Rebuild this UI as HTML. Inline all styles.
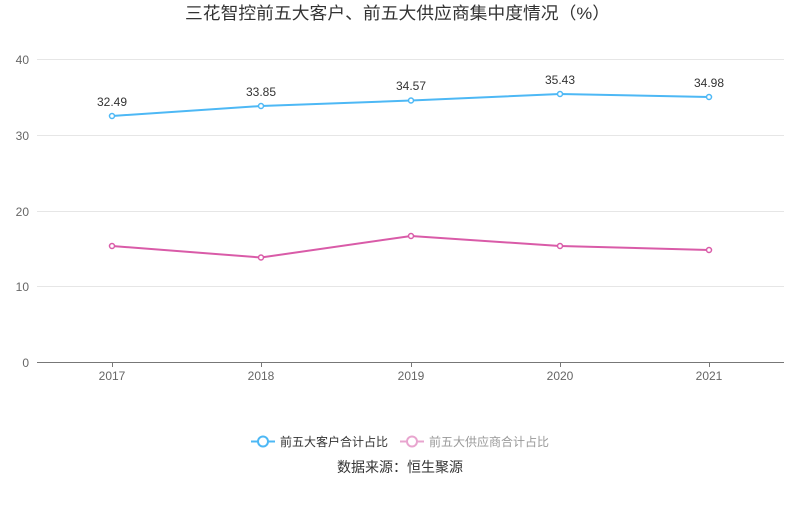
<!DOCTYPE html>
<html><head><meta charset="utf-8"><style>
body{margin:0;background:#fff;}
svg text{font-family:"Liberation Sans","Noto Sans CJK SC",sans-serif;}
</style></head><body>
<svg width="800" height="501" xmlns="http://www.w3.org/2000/svg">
<text x="185" y="19" font-size="17" fill="#333" textLength="425" lengthAdjust="spacingAndGlyphs">三花智控前五大客户、前五大供应商集中度情况（%）</text>
<g stroke="#e6e6e6" stroke-width="1">
<line x1="37" y1="59.5" x2="784" y2="59.5"/>
<line x1="37" y1="135.5" x2="784" y2="135.5"/>
<line x1="37" y1="211.5" x2="784" y2="211.5"/>
<line x1="37" y1="286.5" x2="784" y2="286.5"/>
</g>
<line x1="37" y1="362.5" x2="784" y2="362.5" stroke="#777"/>
<g stroke="#777">
<line x1="112.5" y1="362" x2="112.5" y2="367"/><line x1="261.5" y1="362" x2="261.5" y2="367"/><line x1="411.5" y1="362" x2="411.5" y2="367"/><line x1="560.5" y1="362" x2="560.5" y2="367"/><line x1="709.5" y1="362" x2="709.5" y2="367"/>
</g>
<g font-size="12" fill="#666" text-anchor="end">
<text x="29" y="64">40</text><text x="29" y="140">30</text><text x="29" y="216">20</text><text x="29" y="291">10</text><text x="29" y="367">0</text>
</g>
<g font-size="12" fill="#666" text-anchor="middle">
<text x="112" y="380">2017</text><text x="261" y="380">2018</text><text x="411" y="380">2019</text><text x="560" y="380">2020</text><text x="709" y="380">2021</text>
</g>
<polyline fill="none" stroke="#4db8f5" stroke-width="2" points="112,116 261,106 411,100.5 560,94 709,97"/>
<g fill="#fff" stroke="#4db8f5" stroke-width="1.5">
<circle cx="112" cy="116" r="2.5"/><circle cx="261" cy="106" r="2.5"/><circle cx="411" cy="100.5" r="2.5"/><circle cx="560" cy="94" r="2.5"/><circle cx="709" cy="97" r="2.5"/>
</g>
<g font-size="12" fill="#333" text-anchor="middle">
<text x="112" y="106">32.49</text><text x="261" y="96">33.85</text><text x="411" y="90">34.57</text><text x="560" y="84">35.43</text><text x="709" y="87">34.98</text>
</g>
<polyline fill="none" stroke="#d95ba8" stroke-width="2" points="112,246 261,257.5 411,236 560,246 709,250"/>
<g fill="#fff" stroke="#d95ba8" stroke-width="1.5">
<circle cx="112" cy="246" r="2.5"/><circle cx="261" cy="257.5" r="2.5"/><circle cx="411" cy="236" r="2.5"/><circle cx="560" cy="246" r="2.5"/><circle cx="709" cy="250" r="2.5"/>
</g>
<line x1="251" y1="441.5" x2="275" y2="441.5" stroke="#4db8f5" stroke-width="2"/>
<circle cx="263" cy="441.5" r="5" fill="#fff" stroke="#4db8f5" stroke-width="2"/>
<text x="280" y="446" font-size="12" fill="#333">前五大客户合计占比</text>
<line x1="400" y1="441.5" x2="424" y2="441.5" stroke="#e8a5cf" stroke-width="2"/>
<circle cx="412" cy="441.5" r="5" fill="#fff" stroke="#e8a5cf" stroke-width="2"/>
<text x="429" y="446" font-size="12" fill="#999">前五大供应商合计占比</text>
<text x="400" y="472" text-anchor="middle" font-size="14" fill="#333">数据来源：恒生聚源</text>
</svg>
</body></html>
